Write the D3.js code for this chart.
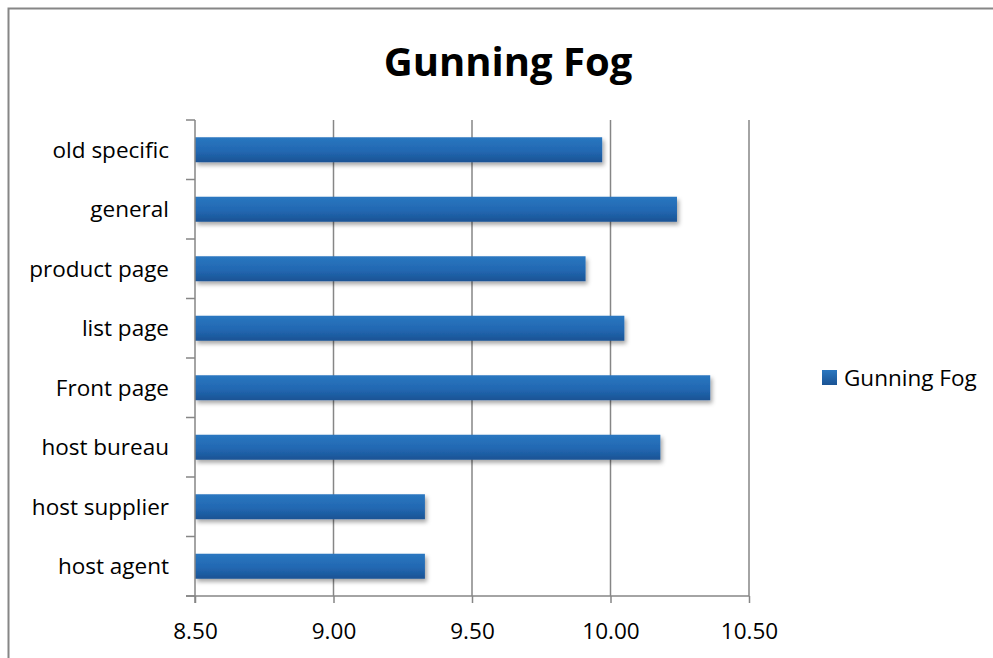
<!DOCTYPE html>
<html>
<head>
<meta charset="utf-8">
<script src="https://cdn.jsdelivr.net/npm/d3@7"></script>
<style>
  html, body { margin: 0; padding: 0; background: #fff; }
  svg { display: block; }
  text { font-family: "Open Sans", "Noto Sans", sans-serif; fill: #000; }
</style>
</head>
<body>
<svg id="chart" width="993" height="658"></svg>
<script>
// Gunning Fog readability score by page type
const categories = ["old specific", "general", "product page", "list page",
                    "Front page", "host bureau", "host supplier", "host agent"];
const values = [9.97, 10.24, 9.91, 10.05, 10.36, 10.18, 9.33, 9.33];
const tickValues = [8.5, 9.0, 9.5, 10.0, 10.5];
const seriesName = "Gunning Fog";
const titleText = "Gunning Fog";

const svg = d3.select("#chart");
const W = 993, H = 658;
const plot = { left: 195, right: 749, top: 120, bottom: 596 };

// outer chart frame (extends past the right and bottom edges)
svg.append("rect")
  .attr("x", 8.5).attr("y", 8.5)
  .attr("width", W + 20).attr("height", H + 20)
  .attr("fill", "#fff").attr("stroke", "#868686").attr("stroke-width", 2);

const defs = svg.append("defs");
const grad = defs.append("linearGradient")
  .attr("id", "barGrad").attr("x1", 0).attr("y1", 0).attr("x2", 0).attr("y2", 1);
grad.append("stop").attr("offset", "0%").attr("stop-color", "#2a77c0");
grad.append("stop").attr("offset", "55%").attr("stop-color", "#2268b2");
grad.append("stop").attr("offset", "100%").attr("stop-color", "#1a5394");

const legGrad = defs.append("linearGradient")
  .attr("id", "legGrad").attr("x1", 0).attr("y1", 0).attr("x2", 0).attr("y2", 1);
legGrad.append("stop").attr("offset", "0%").attr("stop-color", "#2a77c0");
legGrad.append("stop").attr("offset", "100%").attr("stop-color", "#1a5394");

const shadow = defs.append("filter").attr("id", "barShadow")
  .attr("x", "-5%").attr("y", "-30%").attr("width", "115%").attr("height", "180%");
shadow.append("feDropShadow")
  .attr("dx", 2).attr("dy", 3).attr("stdDeviation", 2)
  .attr("flood-color", "#000").attr("flood-opacity", 0.35);

const x = d3.scaleLinear().domain([8.5, 10.5]).range([plot.left, plot.right]);
const y = d3.scaleBand().domain(categories).range([plot.top, plot.bottom])
  .paddingInner(0.58).paddingOuter(0.29);

// vertical gridlines
svg.append("g").selectAll("line")
  .data(tickValues.slice(1))
  .join("line")
  .attr("x1", d => x(d)).attr("x2", d => x(d))
  .attr("y1", plot.top).attr("y2", plot.bottom)
  .attr("stroke", "#868686").attr("stroke-width", 1.5);

// bars
svg.append("g").selectAll("rect")
  .data(categories)
  .join("rect")
  .attr("x", x(8.5))
  .attr("y", d => y(d))
  .attr("width", (d, i) => x(values[i]) - x(8.5))
  .attr("height", y.bandwidth())
  .attr("fill", "url(#barGrad)")
  .attr("filter", "url(#barShadow)");

// bottom value axis
const xAxis = svg.append("g")
  .attr("transform", `translate(0,${plot.bottom})`)
  .call(d3.axisBottom(x).tickValues(tickValues).tickFormat(d3.format(".2f"))
    .tickSize(7).tickPadding(20).tickSizeOuter(0));
xAxis.select(".domain").attr("stroke", "#868686").attr("stroke-width", 1.5)
  .attr("d", `M${plot.left - 9},0H${plot.right}`);
xAxis.selectAll(".tick line").attr("stroke", "#868686").attr("stroke-width", 1.5);
xAxis.selectAll(".tick text")
  .style("font-size", "22.5px").style("font-family", "'Open Sans', sans-serif")
  .attr("fill", "#000");

// left category axis with boundary ticks
const yAxisG = svg.append("g").attr("transform", `translate(${plot.left},0)`);
yAxisG.append("line")
  .attr("x1", 0).attr("x2", 0).attr("y1", plot.top).attr("y2", plot.bottom + 7)
  .attr("stroke", "#868686").attr("stroke-width", 1.5);
const step = (plot.bottom - plot.top) / categories.length;
yAxisG.selectAll("line.tk")
  .data(d3.range(categories.length + 1))
  .join("line").attr("class", "tk")
  .attr("x1", -9).attr("x2", 0)
  .attr("y1", i => plot.top + i * step).attr("y2", i => plot.top + i * step)
  .attr("stroke", "#868686").attr("stroke-width", 1.5);
yAxisG.selectAll("text")
  .data(categories)
  .join("text")
  .attr("x", -26)
  .attr("y", d => y(d) + y.bandwidth() / 2)
  .attr("dy", "0.35em")
  .attr("text-anchor", "end")
  .style("font-size", "22.5px")
  .text(d => d);

// title
svg.append("text")
  .attr("x", 508).attr("y", 76)
  .attr("text-anchor", "middle")
  .style("font-size", "40px").style("font-weight", "bold")
  .text(titleText);

// legend
const leg = svg.append("g").attr("transform", "translate(822,370)");
leg.append("rect").attr("width", 15).attr("height", 15).attr("fill", "url(#legGrad)");
leg.append("text").attr("x", 22).attr("y", 8).attr("dy", "0.35em")
  .style("font-size", "22.5px").text(seriesName);
</script>
</body>
</html>
